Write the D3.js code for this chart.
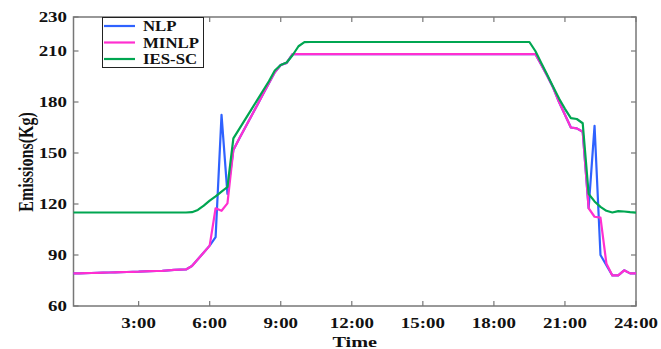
<!DOCTYPE html>
<html>
<head>
<meta charset="utf-8">
<script src="https://cdn.jsdelivr.net/npm/d3@7"></script>
<style>
  html, body { margin: 0; padding: 0; background: #fff; }
  svg { display: block; }
  text { font-family: "Liberation Serif", "Times New Roman", serif; font-weight: bold; fill: #111; }
</style>
</head>
<body>
<svg id="chart" width="661" height="349"></svg>
<script>
// 15-minute time slots over one day (slot 1 = 0:15, slot 96 = 24:00)
const slots = d3.range(1, 97);

// Emissions per slot (kg)
const minlp = [
  79.2, 79.2, 79.3, 79.4, 79.5, 79.6, 79.7, 79.8, 79.9, 80.0,
  80.1, 80.2, 80.4, 80.5, 80.6, 80.7, 81.0, 81.2, 81.4, 81.5,
  83.5, 87.5, 91.5, 95.5, 117.5, 116.0, 120.4, 151.8, 158.5, 165.0,
  171.5, 178.0, 184.5, 191.0, 197.5, 201.8, 203.0, 208.2, 208.2, 208.2,
  208.2, 208.2, 208.2, 208.2, 208.2, 208.2, 208.2, 208.2, 208.2, 208.2,
  208.2, 208.2, 208.2, 208.2, 208.2, 208.2, 208.2, 208.2, 208.2, 208.2,
  208.2, 208.2, 208.2, 208.2, 208.2, 208.2, 208.2, 208.2, 208.2, 208.2,
  208.2, 208.2, 208.2, 208.2, 208.2, 208.2, 208.2, 208.2, 208.2, 202.0,
  195.5, 188.5, 180.0, 172.5, 165.0, 164.5, 162.5, 117.5, 112.5, 112.0,
  85.0, 78.0, 78.0, 81.0, 79.2, 79.2
];

const nlp = [
  79.2, 79.2, 79.3, 79.4, 79.5, 79.6, 79.7, 79.8, 79.9, 80.0,
  80.1, 80.2, 80.4, 80.5, 80.6, 80.7, 81.0, 81.2, 81.4, 81.5,
  83.5, 87.5, 91.5, 95.5, 100.5, 172.4, 126.0, 151.8, 158.5, 165.0,
  171.5, 178.0, 184.5, 191.0, 197.5, 201.8, 203.0, 208.2, 208.2, 208.2,
  208.2, 208.2, 208.2, 208.2, 208.2, 208.2, 208.2, 208.2, 208.2, 208.2,
  208.2, 208.2, 208.2, 208.2, 208.2, 208.2, 208.2, 208.2, 208.2, 208.2,
  208.2, 208.2, 208.2, 208.2, 208.2, 208.2, 208.2, 208.2, 208.2, 208.2,
  208.2, 208.2, 208.2, 208.2, 208.2, 208.2, 208.2, 208.2, 208.2, 202.0,
  195.5, 188.5, 180.0, 172.5, 165.0, 164.5, 162.5, 117.5, 166.0, 90.0,
  84.0, 78.0, 78.0, 81.0, 79.2, 79.2
];

const iesSc = [
  115.0, 115.0, 115.0, 115.0, 115.0, 115.0, 115.0, 115.0, 115.0, 115.0,
  115.0, 115.0, 115.0, 115.0, 115.0, 115.0, 115.0, 115.0, 115.0, 115.0,
  115.2, 116.5, 119.0, 122.0, 124.5, 127.3, 130.0, 158.6, 164.2, 169.8,
  175.4, 181.0, 186.6, 192.2, 198.5, 201.8, 203.2, 207.5, 212.8, 215.2,
  215.3, 215.3, 215.3, 215.3, 215.3, 215.3, 215.3, 215.3, 215.3, 215.3,
  215.3, 215.3, 215.3, 215.3, 215.3, 215.3, 215.3, 215.3, 215.3, 215.3,
  215.3, 215.3, 215.3, 215.3, 215.3, 215.3, 215.3, 215.3, 215.3, 215.3,
  215.3, 215.3, 215.3, 215.3, 215.3, 215.3, 215.3, 215.3, 210.0, 203.0,
  196.0, 189.0, 182.0, 176.0, 170.5, 170.0, 167.5, 126.0, 121.5, 118.3,
  116.0, 115.0, 115.8, 115.6, 115.2, 114.9
];

const seriesNames = ["NLP", "MINLP", "IES-SC"];
const seriesColors = ["#2f62ff", "#ff2fd0", "#00a651"];

const xTickValues = [12, 24, 36, 48, 60, 72, 84, 96];
const xTickLabels = ["3:00", "6:00", "9:00", "12:00", "15:00", "18:00", "21:00", "24:00"];
const yTickValues = [60, 90, 120, 150, 180, 210, 230];

const svg = d3.select("#chart");
const plotLeft = 73.5, plotRight = 636, plotTop = 17, plotBottom = 306;

const x = d3.scaleLinear().domain([1, 96]).range([plotLeft, plotRight]);
const y = d3.scaleLinear().domain([60, 230]).range([plotBottom, plotTop]);

const axisColor = "#777";
const tickLen = 5;

// plot frame with inward ticks on all four sides
const frame = svg.append("g");
frame.append("rect")
  .attr("x", plotLeft).attr("y", plotTop)
  .attr("width", plotRight - plotLeft).attr("height", plotBottom - plotTop)
  .attr("fill", "none").attr("stroke", axisColor).attr("stroke-width", 1.5);

xTickValues.forEach(v => {
  frame.append("line").attr("x1", x(v)).attr("x2", x(v))
    .attr("y1", plotBottom).attr("y2", plotBottom - tickLen)
    .attr("stroke", axisColor).attr("stroke-width", 1.2);
  frame.append("line").attr("x1", x(v)).attr("x2", x(v))
    .attr("y1", plotTop).attr("y2", plotTop + tickLen)
    .attr("stroke", axisColor).attr("stroke-width", 1.2);
});
yTickValues.forEach(v => {
  frame.append("line").attr("x1", plotLeft).attr("x2", plotLeft + tickLen)
    .attr("y1", y(v)).attr("y2", y(v))
    .attr("stroke", axisColor).attr("stroke-width", 1.2);
  frame.append("line").attr("x1", plotRight).attr("x2", plotRight - tickLen)
    .attr("y1", y(v)).attr("y2", y(v))
    .attr("stroke", axisColor).attr("stroke-width", 1.2);
});

// text drawn with a horizontal widening, as in the exported figure
function wideText(g, str, px, py, size, sx, anchor) {
  return g.append("text")
    .attr("transform", `translate(${px},${py}) scale(${sx},1)`)
    .attr("text-anchor", anchor)
    .attr("font-size", size)
    .text(str);
}

const labels = svg.append("g");
yTickValues.forEach(v => {
  wideText(labels, String(v), 67, y(v) + 5, 14, 1.35, "end");
});
xTickValues.forEach((v, i) => {
  wideText(labels, xTickLabels[i], x(v), 328, 14, 1.35, "middle");
});
wideText(labels, "Time", (plotLeft + plotRight) / 2, 347, 15, 1.35, "middle");

labels.append("text")
  .attr("transform", `translate(33,162) scale(1.3,1) rotate(-90)`)
  .attr("text-anchor", "middle")
  .attr("font-size", 16)
  .text("Emissions(Kg)");

// series lines
const line = d3.line()
  .x((d, i) => x(slots[i]))
  .y(d => y(d));

const seriesData = [nlp, minlp, iesSc];
const lines = svg.append("g");
seriesData.forEach((data, k) => {
  lines.append("path")
    .datum(data)
    .attr("d", line)
    .attr("fill", "none")
    .attr("stroke", seriesColors[k])
    .attr("stroke-width", 2.2)
    .attr("stroke-linejoin", "round");
});

// legend
const legend = svg.append("g");
legend.append("rect")
  .attr("x", 102.5).attr("y", 17.5)
  .attr("width", 101).attr("height", 50)
  .attr("fill", "#fff").attr("stroke", "#222").attr("stroke-width", 1);
seriesNames.forEach((name, k) => {
  const ly = 26 + k * 16.5;
  legend.append("line")
    .attr("x1", 104).attr("x2", 135)
    .attr("y1", ly).attr("y2", ly)
    .attr("stroke", seriesColors[k]).attr("stroke-width", 2.2);
  wideText(legend, name, 143, ly + 5, 14, 1.2, "start");
});
</script>
</body>
</html>
